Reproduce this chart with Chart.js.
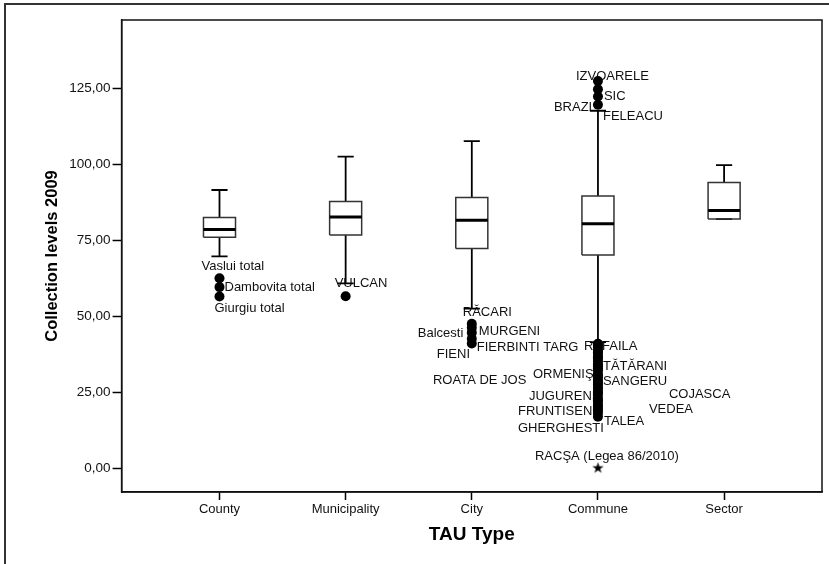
<!DOCTYPE html>
<html>
<head>
<meta charset="utf-8">
<script src="https://cdn.jsdelivr.net/npm/chart.js@4/dist/chart.umd.min.js"></script>
<style>
    body { margin: 0; background: #fff; }
    canvas { display: block; }
</style>
</head>
<body>
<canvas id="boxChart" width="829" height="564"></canvas>
<script>
// Box summaries per TAU type
const categories = ['County', 'Municipality', 'City', 'Commune', 'Sector'];
const whiskerLow = [69.7, 60.8, 52.5, 41.5, 82.0];
const q1 = [76.0, 76.8, 72.3, 70.2, 82.0];
const medians = [78.6, 82.7, 81.6, 80.5, 84.8];
const q3 = [82.5, 87.8, 89.1, 89.6, 94.1];
const whiskerHigh = [91.6, 102.6, 107.7, 117.7, 99.8];
const yTicks = [0, 25, 50, 75, 100, 125];

// Outliers (circles) and extremes (star)
const countyOutliers = [62.5, 59.6, 56.5];
const municipalityOutliers = [56.6];
const cityOutliers = [47.5, 46.2, 44.6, 42.6, 41.0];
const communeHighOutliers = [127.5, 124.8, 122.4, 119.7];
const communeLowOutliers = [40.9, 40.3, 39.6, 38.7, 38.1, 37.2, 36.5, 35.9, 35.0, 34.2, 33.5, 32.9, 32.1, 31.0,
    30.4, 29.7, 28.8, 28.1, 27.4, 26.5, 25.7, 24.9, 24.1, 23.0, 22.3, 21.5, 20.6, 19.8, 19.0, 18.1, 16.9];
const communeExtremes = [0.0];

// Case labels: text, category index, value of the case
const caseLabels = [
    ['Vaslui total', 0, 62.5],
    ['Dambovita total', 0, 59.6],
    ['Giurgiu total', 0, 56.5],
    ['VULCAN', 1, 56.6],
    ['RĂCARI', 2, 47.5],
    ['Balcesti', 2, 44.6],
    ['MURGENI', 2, 46.2],
    ['FIERBINTI TARG', 2, 41.0],
    ['FIENI', 2, 41.0],
    ['IZVOARELE', 3, 127.5],
    ['SIC', 3, 122.4],
    ['BRAZI', 3, 119.7],
    ['FELEACU', 3, 119.7],
    ['RAFAILA', 3, 40.9],
    ['TĂTĂRANI', 3, 33.5],
    ['ORMENIŞ', 3, 31.0],
    ['SANGERU', 3, 28.8],
    ['ROATA DE JOS', 3, 28.1],
    ['COJASCA', 3, 24.1],
    ['JUGURENI', 3, 23.0],
    ['VEDEA', 3, 19.8],
    ['FRUNTISENI', 3, 19.0],
    ['TALEA', 3, 16.9],
    ['GHERGHESTI', 3, 16.9],
    ['RACŞA (Legea 86/2010)', 3, 0.0]
];
// where each label sits relative to its point (px): left edge offset, vertical centre offset
const labelOffsets = [
    [-18, -12], [5, 0], [-5, 12], [-11, -13],
    [-9, -11], [-54, 1], [7, 4], [5, 4], [-35, 11],
    [-22, -5], [6, 0], [-44, 3], [5, 12],
    [-14, 3], [5, 0], [-65, 0], [5, 1], [-165, -2], [71, 0], [-69, -2], [51, 2], [-80, 1], [6, 5], [-80, 12],
    [-63, -12]
];

const FONT = '"Liberation Sans", Arial, sans-serif';
const BOX_HALF = 0.127;
const CAP_HALF = 0.064;

function gap(x) {
    return { x: x, y: null };
}

function buildWhiskers() {
    const pts = [];
    categories.forEach((c, i) => {
        pts.push({ x: i, y: q3[i] }, { x: i, y: whiskerHigh[i] }, gap(i));
        pts.push({ x: i, y: q1[i] }, { x: i, y: whiskerLow[i] }, gap(i));
        pts.push({ x: i - CAP_HALF, y: whiskerHigh[i] }, { x: i + CAP_HALF, y: whiskerHigh[i] }, gap(i));
        pts.push({ x: i - CAP_HALF, y: whiskerLow[i] }, { x: i + CAP_HALF, y: whiskerLow[i] }, gap(i));
    });
    return pts;
}

function buildBoxes() {
    const pts = [];
    categories.forEach((c, i) => {
        pts.push(
            { x: i - BOX_HALF, y: q1[i] }, { x: i + BOX_HALF, y: q1[i] },
            { x: i + BOX_HALF, y: q3[i] }, { x: i - BOX_HALF, y: q3[i] },
            { x: i - BOX_HALF, y: q1[i] }, gap(i)
        );
    });
    return pts;
}

function buildMedians() {
    const pts = [];
    categories.forEach((c, i) => {
        pts.push({ x: i - BOX_HALF, y: medians[i] }, { x: i + BOX_HALF, y: medians[i] }, gap(i));
    });
    return pts;
}

function toPoints(index, values) {
    return values.map(v => ({ x: index, y: v }));
}

function makeStar() {
    const c = document.createElement('canvas');
    c.width = 13;
    c.height = 13;
    const ctx = c.getContext('2d');
    ctx.fillStyle = '#000';
    ctx.beginPath();
    for (let k = 0; k < 10; k++) {
        const r = k % 2 === 0 ? 6 : 2.3;
        const a = -Math.PI / 2 + k * Math.PI / 5;
        const px = 6.5 + r * Math.cos(a);
        const py = 6.5 + r * Math.sin(a);
        if (k === 0) ctx.moveTo(px, py); else ctx.lineTo(px, py);
    }
    ctx.closePath();
    ctx.fill();
    return c;
}

const framePlugin = {
    id: 'frame',
    beforeDraw(chart) {
        const ctx = chart.ctx;
        ctx.save();
        ctx.fillStyle = '#fff';
        ctx.fillRect(0, 0, chart.width, chart.height);
        ctx.strokeStyle = '#333';
        ctx.lineWidth = 2;
        ctx.strokeRect(5, 4, 900, 900);
        ctx.restore();
    },
    beforeDatasetsDraw(chart) {
        // case labels go under the points, as in the original output
        const ctx = chart.ctx;
        const xs = chart.scales.x;
        const ys = chart.scales.y;
        ctx.save();
        ctx.font = '13px ' + FONT;
        ctx.fillStyle = '#111';
        ctx.textAlign = 'left';
        ctx.textBaseline = 'middle';
        caseLabels.forEach((lab, i) => {
            const off = labelOffsets[i];
            const px = xs.getPixelForValue(lab[1]) + off[0];
            const py = ys.getPixelForValue(lab[2]) + off[1];
            ctx.fillText(lab[0], px, py);
        });
        ctx.restore();
    },
    afterDraw(chart) {
        const ctx = chart.ctx;
        const a = chart.chartArea;
        ctx.save();
        ctx.strokeStyle = '#111';
        ctx.lineWidth = 1.5;
        ctx.strokeRect(a.left, a.top, a.right - a.left, a.bottom - a.top);

        ctx.fillStyle = '#000';
        ctx.font = 'bold 16.5px ' + FONT;
        ctx.textAlign = 'center';
        ctx.textBaseline = 'middle';
        ctx.translate(52, (a.top + a.bottom) / 2);
        ctx.rotate(-Math.PI / 2);
        ctx.fillText('Collection levels 2009', 0, 0);
        ctx.restore();

        ctx.save();
        ctx.fillStyle = '#000';
        ctx.font = 'bold 19px ' + FONT;
        ctx.textAlign = 'center';
        ctx.textBaseline = 'middle';
        ctx.fillText('TAU Type', (a.left + a.right) / 2, 535);
        ctx.restore();
    }
};

const dotStyle = {
    type: 'scatter',
    pointRadius: 5,
    pointBackgroundColor: '#000',
    pointBorderColor: '#000',
    pointBorderWidth: 0
};

const ctx = document.getElementById('boxChart').getContext('2d');
new Chart(ctx, {
    type: 'scatter',
    data: {
        datasets: [
            Object.assign({ data: toPoints(0, countyOutliers) }, dotStyle),
            Object.assign({ data: toPoints(1, municipalityOutliers) }, dotStyle),
            Object.assign({ data: toPoints(2, cityOutliers) }, dotStyle),
            Object.assign({ data: toPoints(3, communeHighOutliers) }, dotStyle),
            Object.assign({ data: toPoints(3, communeLowOutliers) }, dotStyle),
            {
                data: toPoints(3, communeExtremes),
                pointStyle: makeStar(),
                pointRadius: 6
            },
            {
                data: buildMedians(),
                showLine: true,
                spanGaps: false,
                borderColor: '#000',
                borderWidth: 3,
                borderCapStyle: 'butt',
                pointRadius: 0
            },
            {
                data: buildBoxes(),
                showLine: true,
                spanGaps: false,
                borderColor: '#333',
                borderWidth: 1.5,
                pointRadius: 0
            },
            {
                data: buildWhiskers(),
                showLine: true,
                spanGaps: false,
                borderColor: '#000',
                borderWidth: 1.8,
                borderCapStyle: 'butt',
                pointRadius: 0
            }
        ]
    },
    options: {
        responsive: false,
        animation: false,
        events: [],
        layout: { padding: { left: 0, right: 7, top: 20, bottom: 0 } },
        plugins: {
            legend: { display: false },
            tooltip: { enabled: false }
        },
        scales: {
            x: {
                type: 'linear',
                min: -0.776,
                max: 4.776,
                afterBuildTicks: scale => {
                    scale.ticks = categories.map((c, i) => ({ value: i }));
                },
                afterFit: scale => { scale.height = 72; },
                ticks: {
                    callback: v => categories[v],
                    color: '#111',
                    font: { family: FONT, size: 13 },
                    padding: 2,
                    maxRotation: 0
                },
                grid: { drawOnChartArea: false, tickLength: 8, color: '#000', tickWidth: 1.5 },
                border: { display: true, color: '#111', width: 1.5 }
            },
            y: {
                type: 'linear',
                min: -7.9,
                max: 147.6,
                afterBuildTicks: scale => {
                    scale.ticks = yTicks.map(v => ({ value: v }));
                },
                afterFit: scale => { scale.width = 121.6; },
                ticks: {
                    callback: v => v.toFixed(2).replace('.', ','),
                    color: '#111',
                    font: { family: FONT, size: 13.5 },
                    padding: 2
                },
                grid: { drawOnChartArea: false, tickLength: 9, color: '#000', tickWidth: 1.5 },
                border: { display: true, color: '#111', width: 1.5 }
            }
        }
    },
    plugins: [framePlugin]
});
</script>
</body>
</html>
